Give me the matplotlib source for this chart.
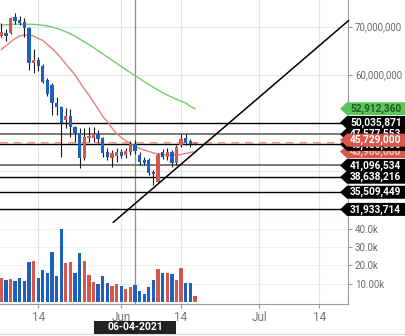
import numpy as np
import pandas as pd
import matplotlib
matplotlib.use("Agg")
import matplotlib.pyplot as plt
from matplotlib.patches import Polygon

plt.rcParams['font.family'] = ['Roboto', 'DejaVu Sans']

# daily candles, prices in millions of KRW
dates = pd.date_range('2021-05-06', '2021-06-17', freq='D')
opens = [68.13, 68.75, 68.63, 71.96, 71.40, 71.04, 69.79, 62.38, 63.06, 61.88, 58.90,
         57.85, 54.04, 53.27, 50.56, 51.40, 49.17, 47.79, 42.58, 46.75, 46.88, 47.58,
         46.75, 43.96, 42.71, 43.13, 43.96, 43.27, 43.96, 45.50, 43.27, 42.23, 42.23,
         39.79, 37.71, 43.96, 42.92, 43.96, 41.54, 45.35, 46.75, 46.25, 45.50]
closes = [68.83, 68.06, 71.75, 71.25, 70.71, 69.67, 62.38, 63.06, 61.88, 58.54, 55.98,
          54.17, 53.33, 49.94, 51.40, 49.17, 47.79, 42.58, 47.08, 47.29, 47.58, 46.60,
          43.63, 42.92, 43.63, 43.96, 43.13, 44.10, 45.50, 44.20, 41.88, 41.54, 39.46,
          39.25, 43.27, 42.92, 43.96, 41.54, 45.00, 46.54, 45.71, 45.56, 45.729]
highs = [70.77, 69.46, 72.00, 72.92, 72.23, 71.75, 70.00, 65.29, 63.63, 62.23, 59.31,
         58.27, 55.42, 53.48, 53.06, 52.85, 49.38, 48.90, 48.90, 49.17, 49.17, 48.48,
         47.08, 44.73, 44.31, 44.67, 44.52, 44.73, 46.19, 46.30, 43.96, 42.92, 42.65,
         40.15, 43.63, 44.52, 44.67, 44.31, 45.35, 47.65, 47.65, 46.60, 45.90]
lows = [67.85, 67.08, 68.48, 70.56, 70.35, 67.92, 60.98, 60.42, 60.83, 58.27, 55.63,
        51.60, 51.60, 42.92, 48.90, 47.08, 46.04, 40.50, 42.23, 46.04, 46.04, 45.75,
        42.92, 42.23, 40.83, 41.88, 42.63, 42.63, 43.27, 43.50, 41.19, 41.19, 39.10,
        37.02, 37.38, 42.38, 42.23, 40.83, 41.19, 45.00, 45.35, 44.94, 45.30]
volume_k = [12.9, 12.1, 12.4, 11.5, 12.9, 11.5, 21.8, 22.3, 12.9, 17.3, 16.1, 27.5,
            14.5, 40.0, 21.3, 21.9, 16.1, 27.0, 22.3, 15.0, 11.0, 9.8, 14.5, 10.3,
            8.9, 9.8, 8.8, 6.9, 8.3, 9.3, 6.2, 4.3, 8.3, 12.1, 17.8, 16.1, 16.1, 15.5,
            12.1, 18.7, 10.3, 10.3, 3.6]
volume_dir = ['u', 'd', 'u', 'd', 'd', 'd', 'd', 'u', 'd', 'd', 'd', 'd', 'd', 'd',
              'u', 'u', 'd', 'd', 'u', 'u', 'u', 'd', 'd', 'd', 'u', 'u', 'd', 'u',
              'u', 'd', 'd', 'd', 'd', 'd', 'u', 'd', 'u', 'd', 'u', 'u', 'd', 'd', 'u']
ma_short = [65.25, 65.98, 66.81, 67.54, 68.06, 68.27, 68.27, 68.06, 67.54, 67.13, 66.29,
            65.46, 64.52, 63.38, 62.23, 61.08, 59.94, 58.48, 57.02, 55.77, 54.31, 52.85,
            51.29, 50.25, 48.90, 47.75, 46.92, 46.19, 45.67, 45.04, 44.63, 44.31, 44.00,
            43.69, 43.48, 43.38, 43.27, 43.27, 43.27, 43.38, 43.58, 43.79, 43.96]
ma_long = [70.35, 70.40, 70.44, 70.48, 70.50, 70.50, 70.50, 70.48, 70.40, 70.29, 70.15,
           69.94, 69.67, 69.31, 68.94, 68.52, 68.00, 67.44, 66.85, 66.27, 65.65, 65.00,
           64.35, 63.69, 63.02, 62.38, 61.73, 61.06, 60.44, 59.81, 59.19, 58.56, 57.94,
           57.33, 56.81, 56.25, 55.77, 55.31, 54.85, 54.46, 54.10, 53.40, 52.91236]

# horizontal levels and their colours
levels = [50035871, 47577553, 45480000, 41096534, 38638216, 35509449, 31933714]
level_colors = ['black', '#707070', 'black', '#707070', 'black', 'black', 'black']
last_price = 45729000

trend_dates = ['2021-05-30 07:00', '2021-07-20 07:00']
trend_prices = [29.25, 71.25]

tick_dates = ['2021-05-14', '2021-06-01', '2021-06-14', '2021-07-01', '2021-07-14']
tick_labels = ['14', 'Jun', '14', 'Jul', '14']
cursor_date = '2021-06-04'

UP, DOWN = '#d2574c', '#1f5fbf'
start = dates[0]


def day_pos(d):
    return (pd.Timestamp(d) - start) / pd.Timedelta(days=1)


x = np.arange(len(dates))
o = np.array(opens) * 1e6
c = np.array(closes) * 1e6
h = np.array(highs) * 1e6
l = np.array(lows) * 1e6

W, H = 405, 336
fig = plt.figure(figsize=(W / 100, H / 100), dpi=100)
ax = fig.add_axes([0, 1 - 223 / H, 348 / W, 223 / H])
axv = fig.add_axes([0, 1 - 304 / H, 348 / W, 81 / H])

xlim = (-0.28, 75.2)
ticks = [day_pos(d) for d in tick_dates]

for a in (ax, axv):
    a.set_xlim(*xlim)
    for t in ticks:
        a.axvline(t, color='#e3e3e3', lw=0.8, zorder=0)
    a.axvline(day_pos(cursor_date), color='#8c8c8c', lw=0.9, zorder=1)
    for s in ('top', 'left'):
        a.spines[s].set_visible(False)
    a.spines['right'].set_color('#9a9a9a')
    a.yaxis.tick_right()
    a.tick_params(axis='y', length=3, color='#9a9a9a', labelsize=7,
                  labelcolor='#6a6a6a', pad=2)

# price panel
ax.set_ylim(29.1e6, 75.56e6)
for g in (40e6, 50e6, 60e6, 70e6):
    ax.axhline(g, color='#e6e6e6', lw=0.8, zorder=0)
ax.set_yticks([60e6, 70e6])
ax.set_yticklabels(['60,000,000', '70,000,000'])
ax.set_xticks([])
ax.spines['bottom'].set_color('#d6d6d6')

for lv, col in zip(levels, level_colors):
    ax.axhline(lv, color=col, lw=1.3 if col != 'black' else 1.0, zorder=2)
ax.axhline(last_price, color='#e59a92', lw=1.4, ls=(0, (4, 3)), zorder=2)

ax.plot(x, np.array(ma_long) * 1e6, color='#6fcf6a', lw=1.0, zorder=3)
ax.plot(x, np.array(ma_short) * 1e6, color='#e38379', lw=1.0, zorder=3)

up = c >= o
colors = np.where(up, UP, DOWN)
ax.vlines(x, l, h, color='#1a1a1a', lw=0.8, zorder=4)
ax.bar(x, np.maximum(np.abs(c - o), 0.12e6), bottom=np.minimum(o, c), width=0.72,
       color=colors, zorder=5)

ax.plot([day_pos(d) for d in trend_dates], np.array(trend_prices) * 1e6,
        color='black', lw=1.1, zorder=6, clip_on=False)

# volume panel
vcol = [UP if d == 'u' else DOWN for d in volume_dir]
axv.bar(x, volume_k, width=0.72, color=vcol, zorder=2)
axv.set_ylim(-1.0, 43.1)
for g in (10, 20, 30, 40):
    axv.axhline(g, color='#efefef', lw=0.7, zorder=0)
axv.set_yticks([10, 20, 30, 40])
axv.set_yticklabels(['10.00k', '20.0k', '30.0k', '40.0k'])
axv.spines['bottom'].set_color('#9a9a9a')
axv.set_xticks(ticks)
axv.set_xticklabels(tick_labels)
axv.tick_params(axis='x', length=3, color='#9a9a9a', labelsize=8.5,
                labelcolor='#777777', pad=2)

# price tags on the right edge
fig.canvas.draw()
to_fig = fig.transFigure.inverted()


def price_tag(value, face, text_color, text, dy=0.0, z=10):
    ypx = ax.transData.transform((0, value))[1] + dy
    pts = [(340, ypx), (347, ypx + 6.5), (406, ypx + 6.5), (406, ypx - 6.5),
           (347, ypx - 6.5)]
    pts = [to_fig.transform(p) for p in pts]
    fig.add_artist(Polygon(pts, closed=True, facecolor=face, edgecolor='none',
                           transform=fig.transFigure, zorder=z))
    tx, ty = to_fig.transform((350, ypx))
    fig.text(tx, ty, text, color=text_color, fontsize=7.3, fontweight='bold',
             ha='left', va='center', zorder=z + 0.5)


price_tag(ma_short[-1] * 1e6, '#d9574d', '#f3c4c0', '{:,.0f}'.format(ma_short[-1] * 1e6), z=10)
for i, lv in enumerate(levels):
    price_tag(lv, 'black', 'white', '{:,}'.format(lv), z=11 + (i == 0) + (i >= 3) * 2)
price_tag(last_price, '#d9574d', 'white', '{:,}'.format(last_price), dy=3, z=12)
price_tag(ma_long[-1] * 1e6, '#5cc45a', '#1d5a1d', '{:,.0f}'.format(ma_long[-1] * 1e6), z=12)

# cursor date box
cx = axv.transData.transform((day_pos(cursor_date), 0))[0]
bx0, by0 = to_fig.transform((cx - 41, 2))
bx1, by1 = to_fig.transform((cx + 41, 15.5))
fig.add_artist(plt.Rectangle((bx0, by0), bx1 - bx0, by1 - by0, facecolor='#222222',
                             edgecolor='none', transform=fig.transFigure, zorder=10))
fig.text((bx0 + bx1) / 2, (by0 + by1) / 2, pd.Timestamp(cursor_date).strftime('%m-%d-%Y'),
         color='white', fontsize=7.5, fontweight='bold', ha='center', va='center', zorder=11)
fig.add_artist(plt.Line2D([0, 1], [2.5 / H, 2.5 / H], color='#dcdcdc', lw=1,
                          transform=fig.transFigure, zorder=9))

fig.savefig('out.png', dpi=100)
